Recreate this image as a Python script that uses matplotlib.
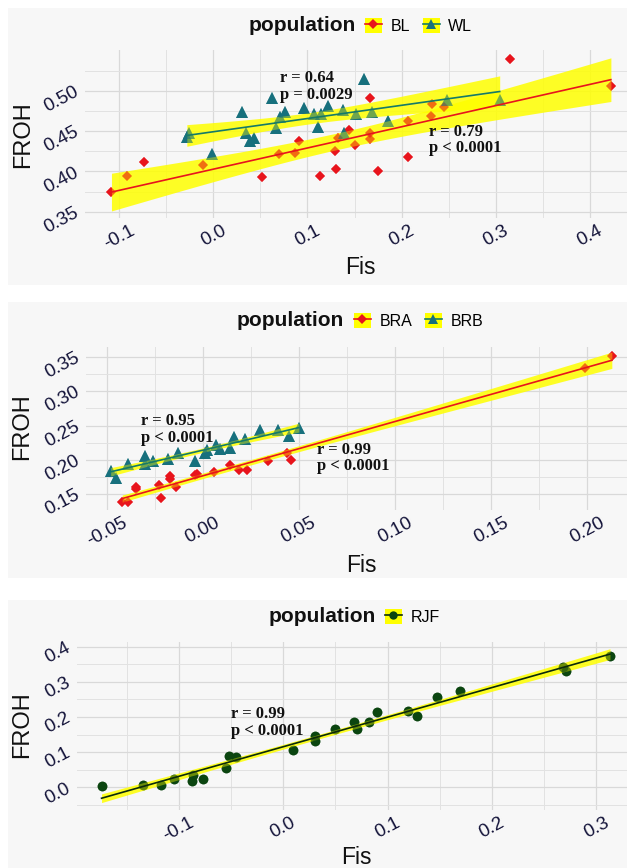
import numpy as np
import matplotlib
matplotlib.use("Agg")
import matplotlib.pyplot as plt
from matplotlib.patches import Rectangle, Patch
from matplotlib.lines import Line2D
from matplotlib.legend_handler import HandlerTuple

# ---------------- data ----------------
bl_fis = [-0.108, -0.091, -0.073, -0.011, 0.052, 0.070, 0.087, 0.091, 0.113, 0.129,
          0.130, 0.132, 0.144, 0.150, 0.166, 0.166, 0.166, 0.175, 0.207, 0.207,
          0.231, 0.232, 0.245, 0.315, 0.422]
bl_froh = [0.375, 0.394, 0.412, 0.408, 0.393, 0.421, 0.423, 0.438, 0.394, 0.425,
           0.403, 0.441, 0.451, 0.433, 0.491, 0.448, 0.440, 0.400, 0.462, 0.418,
           0.469, 0.484, 0.480, 0.539, 0.506]
wl_fis = [-0.028, -0.026, -0.001, 0.031, 0.035, 0.039, 0.043, 0.062, 0.067, 0.071,
          0.076, 0.096, 0.107, 0.111, 0.114, 0.122, 0.138, 0.139, 0.151, 0.160,
          0.169, 0.186, 0.248, 0.304]
wl_froh = [0.442, 0.447, 0.422, 0.473, 0.447, 0.438, 0.441, 0.491, 0.454, 0.467,
           0.473, 0.479, 0.471, 0.455, 0.471, 0.481, 0.476, 0.448, 0.471, 0.515,
           0.473, 0.463, 0.489, 0.488]

bra_fis = [-0.042, -0.039, -0.035, -0.035, -0.023, -0.022, -0.017, -0.017, -0.014, -0.004,
           -0.003, 0.006, 0.014, 0.019, 0.023, 0.034, 0.044, 0.046, 0.199, 0.213]
bra_froh = [0.138, 0.139, 0.158, 0.160, 0.164, 0.144, 0.172, 0.176, 0.161, 0.178,
            0.180, 0.182, 0.193, 0.186, 0.186, 0.198, 0.210, 0.200, 0.334, 0.352]
brb_fis = [-0.048, -0.045, -0.039, -0.030, -0.030, -0.026, -0.018, -0.013, -0.004, 0.001,
           0.002, 0.007, 0.009, 0.014, 0.016, 0.022, 0.030, 0.039, 0.045, 0.050]
brb_froh = [0.184, 0.174, 0.194, 0.206, 0.194, 0.198, 0.201, 0.210, 0.198, 0.210,
            0.214, 0.222, 0.216, 0.218, 0.233, 0.230, 0.244, 0.244, 0.235, 0.247]

rjf_fis = [-0.174, -0.134, -0.117, -0.105, -0.087, -0.086, -0.077, -0.055, -0.052, -0.045,
           0.009, 0.030, 0.030, 0.050, 0.068, 0.071, 0.082, 0.090, 0.120, 0.128,
           0.147, 0.169, 0.268, 0.271, 0.313]
rjf_froh = [0.005, 0.007, 0.008, 0.024, 0.018, 0.035, 0.024, 0.056, 0.090, 0.085,
            0.106, 0.146, 0.133, 0.165, 0.187, 0.166, 0.185, 0.214, 0.217, 0.204,
            0.256, 0.274, 0.343, 0.331, 0.374]

p1_xticks = [-0.1, 0.0, 0.1, 0.2, 0.3, 0.4]
p1_xlabels = ["-0.1", "0.0", "0.1", "0.2", "0.3", "0.4"]
p1_yticks = [0.35, 0.40, 0.45, 0.50]
p1_ylabels = ["0.35", "0.40", "0.45", "0.50"]
p2_xticks = [-0.05, 0.0, 0.05, 0.10, 0.15, 0.20]
p2_xlabels = ["-0.05", "0.00", "0.05", "0.10", "0.15", "0.20"]
p2_yticks = [0.15, 0.20, 0.25, 0.30, 0.35]
p2_ylabels = ["0.15", "0.20", "0.25", "0.30", "0.35"]
p3_xticks = [-0.1, 0.0, 0.1, 0.2, 0.3]
p3_xlabels = ["-0.1", "0.0", "0.1", "0.2", "0.3"]
p3_yticks = [0.0, 0.1, 0.2, 0.3, 0.4]
p3_ylabels = ["0.0", "0.1", "0.2", "0.3", "0.4"]

stats1 = ["r = 0.64\np = 0.0029", "r = 0.79\np < 0.0001"]
stats2 = ["r = 0.95\np < 0.0001", "r = 0.99\np < 0.0001"]
stats3 = ["r = 0.99\np < 0.0001"]

# ---------------- style ----------------
W, H = 627, 868
SANS = ["Liberation Sans", "DejaVu Sans"]
SERIF = ["Liberation Serif", "DejaVu Serif"]
BG = "#f7f7f7"
RED = "#e8141c"
TEAL = "#17707d"
TEAL_LINE = "#157a68"
DGREEN = "#0b4510"
YELLOW = "#ffff00"
TICKC = "#14143a"

plt.rcParams["font.family"] = SANS
fig = plt.figure(figsize=(W / 100, H / 100), dpi=100)
fig.patch.set_facecolor("white")

for (top, bot) in [(8, 285), (302, 578), (600, 868)]:
    fig.patches.append(Rectangle((8 / W, 1 - bot / H), (W - 8) / W, (bot - top) / H,
                                 transform=fig.transFigure, facecolor=BG,
                                 edgecolor="none", zorder=-5))


def make_axes(left, top, right, bottom):
    ax = fig.add_axes([left / W, 1 - bottom / H, (right - left) / W, (bottom - top) / H])
    ax.set_facecolor(BG)
    for s in ax.spines.values():
        s.set_visible(False)
    return ax


def tval(df):
    z = 1.959964
    return z + (z ** 3 + z) / (4 * df) + (5 * z ** 5 + 16 * z ** 3 + 3 * z) / (96 * df ** 2)


def smooth(ax, x, y, line_color):
    x = np.asarray(x, float)
    y = np.asarray(y, float)
    n = len(x)
    b, a = np.polyfit(x, y, 1)
    res = y - (a + b * x)
    s = np.sqrt(np.sum(res ** 2) / (n - 2))
    sxx = np.sum((x - x.mean()) ** 2)
    xs = np.linspace(x.min(), x.max(), 100)
    yh = a + b * xs
    se = s * np.sqrt(1 / n + (xs - x.mean()) ** 2 / sxx)
    t = tval(n - 2)
    ax.fill_between(xs, yh - t * se, yh + t * se, color=YELLOW, alpha=0.85,
                    lw=0, zorder=3)
    ax.plot(xs, yh, color=line_color, lw=1.2, zorder=5)


def points(ax, x, y, marker, color, size):
    ax.plot(x, y, ls="none", marker=marker, color=color, markersize=size,
            markeredgewidth=0, zorder=2)
    ax.plot(x, y, ls="none", marker=marker, color=color, markersize=size,
            markeredgewidth=0, alpha=0.55, zorder=4)


def style_axes(ax, xlim, ylim, xt, xl, yt, yl, xminor, yminor, xlab_pos, ylab_pos):
    ax.set_xlim(*xlim)
    ax.set_ylim(*ylim)
    ax.set_xticks(xt, labels=xl)
    ax.set_yticks(yt, labels=yl)
    ax.set_xticks(xminor, minor=True)
    ax.set_yticks(yminor, minor=True)
    ax.tick_params(which="both", length=0)
    ax.tick_params(axis="x", labelsize=13.5, labelcolor=TICKC, pad=3)
    ax.tick_params(axis="y", labelsize=13.5, labelcolor=TICKC, pad=5)
    plt.setp(ax.get_xticklabels(), rotation=28, ha="center", va="top")
    plt.setp(ax.get_yticklabels(), rotation=28, rotation_mode="anchor",
             ha="right", va="center")
    ax.grid(which="major", color="#d9d9d9", lw=0.9)
    ax.grid(which="minor", color="#e2e2e2", lw=0.7)
    ax.set_axisbelow(True)
    ax.set_xlabel("Fis", fontsize=16.5, color="#111111")
    ax.set_ylabel("FROH", fontsize=17, color="#111111")
    ax.xaxis.set_label_coords(*xlab_pos)
    ax.yaxis.set_label_coords(*ylab_pos)
    ax.xaxis.label.set_va("center")
    ax.yaxis.label.set_va("center")


def legend(x_title, y, title_size, names, markers, colors, lcolors, x_leg, msizes):
    fig.text(x_title / W, 1 - y / H, "population", fontsize=title_size,
             fontweight="bold", ha="left", va="center", color="#111111")
    handles = []
    for m, c, lc, ms in zip(markers, colors, lcolors, msizes):
        handles.append((Patch(facecolor=YELLOW, edgecolor="none"),
                        Line2D([], [], color=lc, lw=1.2, marker=m, markersize=ms,
                               markerfacecolor=c, markeredgewidth=0)))
    fig.legend(handles, names, handler_map={tuple: HandlerTuple(ndivide=1, pad=0)},
               loc="center left", bbox_to_anchor=(x_leg / W, 1 - y / H),
               ncol=len(names), frameon=False, fontsize=11.5, borderpad=0,
               handlelength=1.05, handleheight=1.05, handletextpad=0.55,
               columnspacing=0.8, borderaxespad=0)


def annotate(ax, x, y, s):
    ax.text(x, y, s, fontfamily=SERIF, fontweight="bold", fontsize=12,
            ha="left", va="center", linespacing=1.05, color="#111111", zorder=6)


# ---------------- panel 1 ----------------
ax1 = make_axes(84.6, 50, 627, 218.3)
points(ax1, bl_fis, bl_froh, "D", RED, 5)
points(ax1, wl_fis, wl_froh, "^", TEAL, 8.5)
smooth(ax1, bl_fis, bl_froh, RED)
smooth(ax1, wl_fis, wl_froh, TEAL_LINE)
style_axes(ax1, (-0.1365, 0.4391), (0.3418, 0.5505), p1_xticks, p1_xlabels,
           p1_yticks, p1_ylabels, np.arange(-0.05, 0.40, 0.1), np.arange(0.375, 0.55, 0.05),
           (0.508, -0.295), (-0.1136, 0.495))
annotate(ax1, 0.071, 0.5056, stats1[0])
annotate(ax1, 0.229, 0.4389, stats1[1])
legend(249, 25.7, 15, ["BL", "WL"], ["D", "^"], [RED, TEAL], [RED, TEAL_LINE], 365, [5, 7])

# ---------------- panel 2 ----------------
ax2 = make_axes(85.7, 346.7, 627, 510)
points(ax2, bra_fis, bra_froh, "D", RED, 5)
points(ax2, brb_fis, brb_froh, "^", TEAL, 8.5)
smooth(ax2, bra_fis, bra_froh, RED)
smooth(ax2, brb_fis, brb_froh, TEAL_LINE)
style_axes(ax2, (-0.061, 0.2209), (0.127, 0.365), p2_xticks, p2_xlabels,
           p2_yticks, p2_ylabels, np.arange(-0.025, 0.22, 0.05), np.arange(0.175, 0.36, 0.05),
           (0.5086, -0.337), (-0.1177, 0.51))
annotate(ax2, -0.0323, 0.244, stats2[0])
annotate(ax2, 0.0594, 0.2029, stats2[1])
legend(237, 321, 15, ["BRA", "BRB"], ["D", "^"], [RED, TEAL], [RED, TEAL_LINE], 354, [5, 7])

# ---------------- panel 3 ----------------
ax3 = make_axes(76.5, 641.7, 627, 810)
points(ax3, rjf_fis, rjf_froh, "o", DGREEN, 7)
smooth(ax3, rjf_fis, rjf_froh, "#0b2a0b")
style_axes(ax3, (-0.198, 0.3293), (-0.0645, 0.414), p3_xticks, p3_xlabels,
           p3_yticks, p3_ylabels, np.arange(-0.15, 0.33, 0.1), np.arange(-0.05, 0.40, 0.1),
           (0.508, -0.285), (-0.099, 0.505))
annotate(ax3, -0.0502, 0.185, stats3[0])
legend(269, 616.7, 15, ["RJF"], ["o"], [DGREEN], ["#0b2a0b"], 385, [6])

fig.savefig("out.png", dpi=100, facecolor="white")
